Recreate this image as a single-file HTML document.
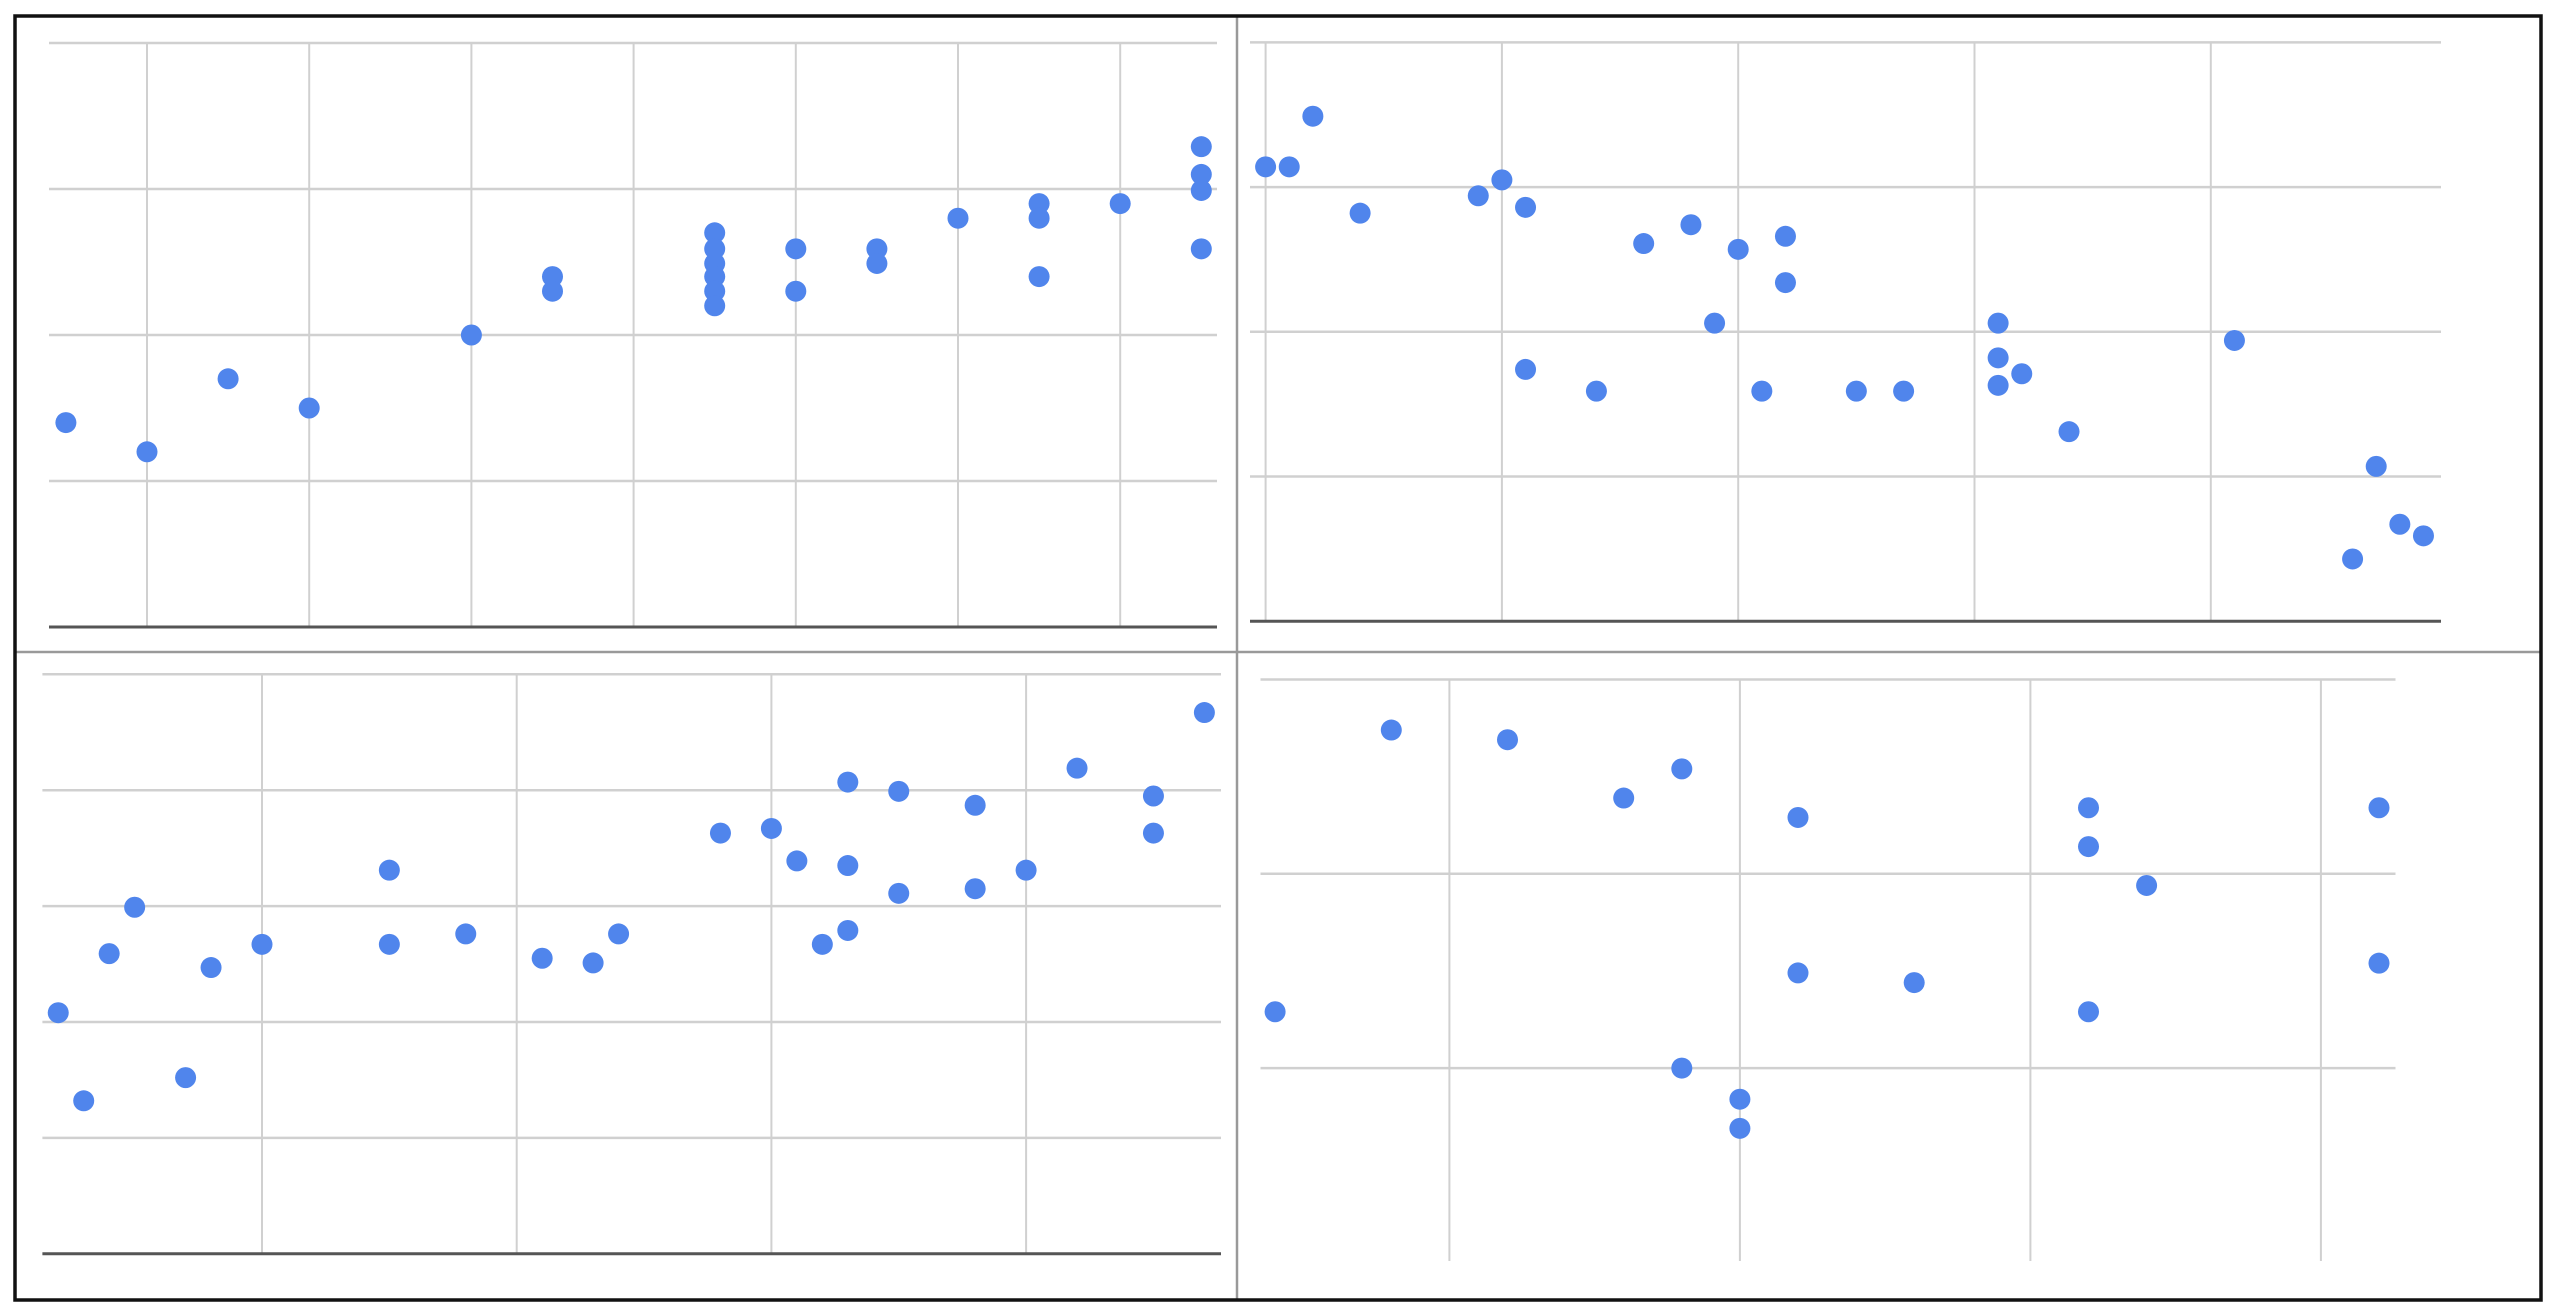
<!DOCTYPE html>
<html><head><meta charset="utf-8"><style>
html,body{margin:0;padding:0;background:#fff;}
svg{display:block;}
</style></head><body>
<svg id="root" width="2558" height="1314" xmlns="http://www.w3.org/2000/svg">
<rect x="0" y="0" width="2558" height="1314" fill="#fff"/>
<g id="charts"></g>
<line x1="1237" y1="16" x2="1237" y2="1300" stroke="#999" stroke-width="2.5"/>
<line x1="15" y1="652" x2="2541" y2="652" stroke="#999" stroke-width="2.5"/>
<rect x="15" y="16" width="2526" height="1284" fill="none" stroke="#111" stroke-width="3.5"/>
</svg>
<script>
// Chart 1 (top-left)
const c1X = [0.5,1,1.5,2,3,3.5,3.5,4.5,4.5,4.5,4.5,4.5,4.5,5,5,5.5,5.5,6,6.5,6.5,6.5,7,7.5,7.5,7.5,7.5];
const c1Y = [1.40,1.20,1.70,1.50,2.0,2.40,2.30,2.70,2.59,2.49,2.40,2.30,2.20,2.59,2.30,2.59,2.49,2.80,2.90,2.80,2.40,2.90,3.29,3.10,2.99,2.59];
const c1XTicks = [1,2,3,4,5,6,7];
const c1YTicks = [1,2,3,4];
// Chart 2 (top-right)
const c2X = [0,1,2,4,9,10,11,11,14,16,18,19,20,21,22,22,25,27,31,31,31,32,34,41,46,47,48,49];
const c2Y = [3.14,3.14,3.49,2.82,2.94,3.05,2.86,1.74,1.59,2.61,2.74,2.06,2.57,1.59,2.66,2.34,1.59,1.59,2.06,1.82,1.63,1.71,1.31,1.94,0.43,1.07,0.67,0.59];
const c2XTicks = [0,10,20,30,40];
const c2YTicks = [1,2,3,4];
// Chart 3 (bottom-left)
const c3X = [2,3,4,5,7,8,10,15,15,18,21,23,24,28,30,31,32,33,33,33,35,35,38,38,40,42,45,45,47];
const c3Y = [2.08,1.32,2.59,2.99,1.52,2.47,2.67,3.31,2.67,2.76,2.55,2.51,2.76,3.63,3.67,3.39,2.67,4.07,3.35,2.79,3.99,3.11,3.87,3.15,3.31,4.19,3.95,3.63,4.67];
const c3XTicks = [10,20,30,40];
const c3YTicks = [1,2,3,4,5];
// Chart 4 (bottom-right)
const c4X = [2,4,6,8,9,9,10,10,11,11,13,16,16,16,17,21,21];
const c4Y = [1.29,2.74,2.69,2.39,2.54,1.00,0.84,0.69,2.29,1.49,1.44,2.34,2.14,1.29,1.94,2.34,1.54];
const c4XTicks = [5,10,15,20];
const c4YTicks = [1,2,3];

const NS='http://www.w3.org/2000/svg';
const root=document.getElementById('charts');
function mk(tag,attrs,parent){const e=document.createElementNS(NS,tag);for(const k in attrs)e.setAttribute(k,attrs[k]);parent.appendChild(e);return e;}

const cfgs=[
 {name:'chart-top-left',xs:c1X,ys:c1Y,xt:c1XTicks,yt:c1YTicks,x0:147,xu:162.2,xv0:1,y0:627,yu:146,left:49,right:1217,top:43.4,vBottom:627,axis:true},
 {name:'chart-top-right',xs:c2X,ys:c2Y,xt:c2XTicks,yt:c2YTicks,x0:1265.6,xu:23.63,xv0:0,y0:621.2,yu:144.7,left:1250,right:2441,top:42.5,vBottom:621.2,axis:true},
 {name:'chart-bottom-left',xs:c3X,ys:c3Y,xt:c3XTicks,yt:c3YTicks,x0:262,xu:25.47,xv0:10,y0:1253.8,yu:115.9,left:42.4,right:1221,top:674.4,vBottom:1253.8,axis:true},
 {name:'chart-bottom-right',xs:c4X,ys:c4Y,xt:c4XTicks,yt:c4YTicks,x0:1449.4,xu:58.1,xv0:5,y0:1262.4,yu:194.3,left:1260.5,right:2395.5,top:679.5,vBottom:1261,axis:false}
];
cfgs.forEach(c=>{
  const g=mk('g',{},root);
  
  
  const sx=v=>c.x0+(v-c.xv0)*c.xu;
  const sy=v=>c.y0-v*c.yu;
  c.yt.forEach(t=>{
    const l=mk('line',{x1:c.left,x2:c.right,y1:sy(t),y2:sy(t),stroke:'#d0d0d0','stroke-width':2.5},g);
    
    
  });
  const topY=sy(c.yt[c.yt.length-1]);
  c.xt.forEach(t=>{
    const l=mk('line',{x1:sx(t),x2:sx(t),y1:topY,y2:c.vBottom,stroke:'#d0d0d0','stroke-width':2},g);
    
    
  });
  if(c.axis){
    const a=mk('line',{x1:c.left,x2:c.right,y1:c.y0,y2:c.y0,stroke:'#555','stroke-width':3},g);
    
    
  }
  c.xs.forEach((xv,i)=>{
    const p=mk('circle',{cx:sx(xv),cy:sy(c.ys[i]),r:10.5,fill:'#5085ec'},g);
    
    
  });
});
</script>
</body></html>
